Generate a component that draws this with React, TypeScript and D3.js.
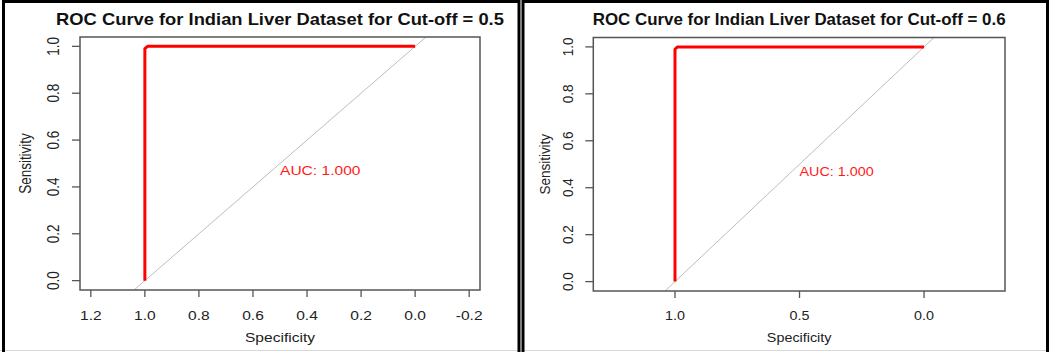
import React from "react";
import * as d3 from "d3";

// ROC curve points (specificity, sensitivity) — same result for both cut-offs
const rocSpecificity = [1.0, 1.0, 0.99, 0.0];
const rocSensitivity = [0.0, 0.99, 1.0, 1.0];

const titles = [
    "ROC Curve for Indian Liver Dataset for Cut-off = 0.5",
    "ROC Curve for Indian Liver Dataset for Cut-off = 0.6",
];
const aucLabels = ["AUC: 1.000", "AUC: 1.000"];

const xTicksLeft = [1.2, 1.0, 0.8, 0.6, 0.4, 0.2, 0.0, -0.2];
const xTickLabelsLeft = ["1.2", "1.0", "0.8", "0.6", "0.4", "0.2", "0.0", "-0.2"];
const xTicksRight = [1.0, 0.5, 0.0];
const xTickLabelsRight = ["1.0", "0.5", "0.0"];
const yTicks = [0.0, 0.2, 0.4, 0.6, 0.8, 1.0];
const yTickLabels = ["0.0", "0.2", "0.4", "0.6", "0.8", "1.0"];

const W = 1049;
const H = 352;
const FONT = "'Liberation Sans', Arial, Helvetica, sans-serif";
const FS = 13.5;

interface PanelProps {
    id: string;
    title: string;
    auc: string;
    xTicks: number[];
    xTickLabels: string[];
    xDomain: [number, number];
    box: { x0: number; x1: number; y0: number; y1: number };
    sx: number; // horizontal stretch of the source picture
    ylabX: number;
    yTickX: number;
}

function Panel({ id, title, auc, xTicks, xTickLabels, xDomain, box, sx, ylabX, yTickX }: PanelProps) {
    const x = d3.scaleLinear().domain(xDomain).range([box.x0, box.x1]);
    const y = d3.scaleLinear().domain([-0.04, 1.04]).range([box.y1, box.y0]);

    const pts = rocSpecificity.map((s, i) => [s, rocSensitivity[i]] as [number, number]);
    const line = d3
        .line<[number, number]>()
        .x((d) => x(d[0]))
        .y((d) => y(d[1]));

    const cx = (box.x0 + box.x1) / 2;
    const cy = (box.y0 + box.y1) / 2;
    // diagonal sens = 1 - spec, clipped to the box
    const diag: [number, number][] = [
        [1.1, -0.1],
        [-0.1, 1.1],
    ];

    return (
        <g>
            <defs>
                <clipPath id={id}>
                    <rect x={box.x0} y={box.y0} width={box.x1 - box.x0} height={box.y1 - box.y0} />
                </clipPath>
            </defs>
            <text
                transform={`translate(${cx},25) scale(${sx},1)`}
                textAnchor="middle"
                fontFamily={FONT}
                fontWeight="bold"
                fontSize={15.9}
                fill="#111"
            >
                {title}
            </text>

            <g clipPath={`url(#${id})`}>
                <path d={line(diag)!} stroke="#bdbdbd" strokeWidth={1} fill="none" />
                <path d={line(pts)!} stroke="#ff0000" strokeWidth={3} fill="none" strokeLinejoin="round" />
            </g>

            <rect
                x={box.x0}
                y={box.y0}
                width={box.x1 - box.x0}
                height={box.y1 - box.y0}
                fill="none"
                stroke="#555"
                strokeWidth={1.5}
            />

            {xTicks.map((t, i) => (
                <g key={"x" + i}>
                    <line x1={x(t)} x2={x(t)} y1={box.y1} y2={box.y1 + 7} stroke="#555" strokeWidth={1.3} />
                    <text
                        transform={`translate(${x(t)},320) scale(${sx},1)`}
                        textAnchor="middle"
                        fontFamily={FONT}
                        fontSize={FS}
                        fill="#222"
                    >
                        {xTickLabels[i]}
                    </text>
                </g>
            ))}

            {yTicks.map((t, i) => (
                <g key={"y" + i}>
                    <line x1={box.x0 - 8} x2={box.x0} y1={y(t)} y2={y(t)} stroke="#555" strokeWidth={1.3} />
                    <text
                        transform={`translate(${yTickX},${y(t)}) scale(${sx},1) rotate(-90)`}
                        textAnchor="middle"
                        dy="0.35em"
                        fontFamily={FONT}
                        fontSize={FS}
                        fill="#222"
                    >
                        {yTickLabels[i]}
                    </text>
                </g>
            ))}

            <text
                transform={`translate(${cx},341.5) scale(${sx},1)`}
                textAnchor="middle"
                fontFamily={FONT}
                fontSize={FS}
                fill="#222"
            >
                Specificity
            </text>
            <text
                transform={`translate(${ylabX},${cy}) scale(${sx},1) rotate(-90)`}
                textAnchor="middle"
                dy="0.35em"
                fontFamily={FONT}
                fontSize={FS}
                fill="#222"
            >
                Sensitivity
            </text>

            <text
                transform={`translate(${x(0.5)},${y(0.5)}) scale(${sx},1)`}
                dy="0.85em"
                fontFamily={FONT}
                fontSize={FS}
                fill="#ff1a1a"
            >
                {auc}
            </text>
        </g>
    );
}

export default function App() {
    return (
        <svg
            width={W}
            height={H}
            viewBox={`0 0 ${W} ${H}`}
            style={{ position: "absolute", left: 0, top: 0, background: "#fff" }}
        >
            <rect x={0} y={0} width={W} height={H} fill="#fff" />

            <Panel
                id="clipL"
                title={titles[0]}
                auc={aucLabels[0]}
                xTicks={xTicksLeft}
                xTickLabels={xTickLabelsLeft}
                xDomain={[1.24, -0.24]}
                box={{ x0: 80, x1: 480, y0: 37, y1: 290 }}
                sx={1.154}
                ylabX={26}
                yTickX={54}
            />
            <Panel
                id="clipR"
                title={titles[1]}
                auc={aucLabels[1]}
                xTicks={xTicksRight}
                xTickLabels={xTickLabelsRight}
                xDomain={[1.328, -0.325]}
                box={{ x0: 593.3, x1: 1005, y0: 37.5, y1: 291 }}
                sx={1.064}
                ylabX={545}
                yTickX={568}
            />

            {/* outer frames */}
            <line x1={0} x2={W} y1={350.5} y2={350.5} stroke="#d8d8d8" strokeWidth={1} />
            <rect x={3.5} y={1.5} width={515.5} height={380} fill="none" stroke="#000" strokeWidth={3} />
            <rect x={523} y={1.5} width={524.5} height={380} fill="none" stroke="#000" strokeWidth={3} />
        </svg>
    );
}
